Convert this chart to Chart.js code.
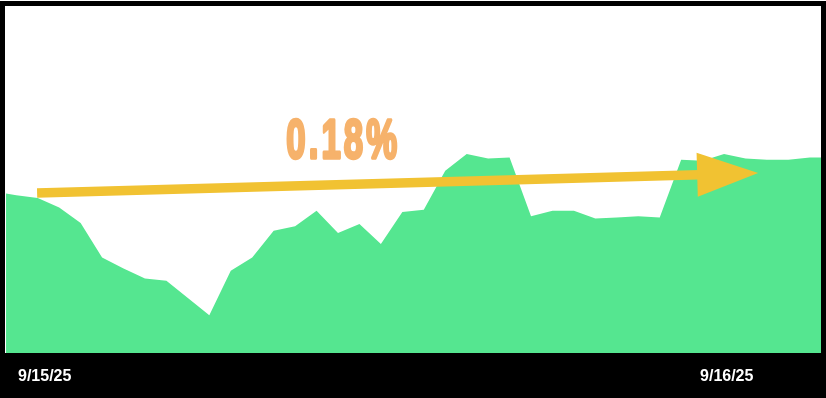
<!DOCTYPE html>
<html>
<head>
<meta charset="utf-8">
<script src="https://cdn.jsdelivr.net/npm/chart.js@4.4.1/dist/chart.umd.min.js"></script>
<style>
  html,body{margin:0;padding:0;background:#fff;}
  canvas{display:block;}
</style>
</head>
<body>
<canvas id="priceChart" width="826" height="398"></canvas>
<script>
// ---- data ----
const values = [100.01, 99.98, 99.955, 99.87, 99.73, 99.42, 99.32, 99.23, 99.21, 99.055,
  98.90, 99.30, 99.42, 99.66, 99.70, 99.84, 99.64, 99.72, 99.54, 99.83,
  99.85, 100.20, 100.35, 100.31, 100.32, 99.79, 99.84, 99.84, 99.77, 99.78,
  99.79, 99.78, 100.30, 100.29, 100.35, 100.31, 100.30, 100.30, 100.32, 100.32];
const tickIndex = [1.08, 32.88];
const tickLabels = ['9/15/25', '9/16/25'];
const arrowFrom = [1.97, 100.00];
const arrowTo = [35.59, 100.18];
const changeLabel = '0.18%';

const points = values.map((v, i) => ({x: i, y: v}));

const frame = {
  id: 'frame',
  beforeDraw(chart){
    const {ctx, chartArea, width, height} = chart;
    ctx.save();
    ctx.fillStyle = '#000';
    ctx.fillRect(0, chartArea.bottom, width, height - chartArea.bottom);
    ctx.restore();
  },
  afterDatasetsDraw(chart){
    const {ctx} = chart;
    const xs = chart.scales.x, ys = chart.scales.y;
    const x1 = xs.getPixelForValue(arrowFrom[0]), y1 = ys.getPixelForValue(arrowFrom[1]);
    const x2 = xs.getPixelForValue(arrowTo[0]), y2 = ys.getPixelForValue(arrowTo[1]);
    const ang = Math.atan2(y2 - y1, x2 - x1);
    const headLen = 61, headHalf = 22;
    const bx = x2 - headLen * Math.cos(ang), by = y2 - headLen * Math.sin(ang);
    ctx.save();
    ctx.strokeStyle = '#f1c232';
    ctx.fillStyle = '#f1c232';
    ctx.lineWidth = 9.5;
    ctx.beginPath();
    ctx.moveTo(x1, y1);
    ctx.lineTo(bx + 2 * Math.cos(ang), by + 2 * Math.sin(ang));
    ctx.stroke();
    ctx.beginPath();
    ctx.moveTo(x2, y2);
    ctx.lineTo(bx - headHalf * Math.sin(ang), by + headHalf * Math.cos(ang));
    ctx.lineTo(bx + headHalf * Math.sin(ang), by - headHalf * Math.cos(ang));
    ctx.closePath();
    ctx.fill();

    // percentage label, squeezed to look like a condensed heavy face
    ctx.translate(285, 143);
    ctx.scale(0.62, 1);
    ctx.font = 'bold 56px "Liberation Sans", Arial, sans-serif';
    ctx.letterSpacing = '5px';
    ctx.textAlign = 'left';
    ctx.textBaseline = 'middle';
    ctx.fillStyle = '#f6b26b';
    ctx.strokeStyle = '#f6b26b';
    ctx.lineWidth = 3.5;
    ctx.lineJoin = 'round';
    ctx.strokeText(changeLabel, 2, 0);
    ctx.fillText(changeLabel, 2, 0);
    ctx.restore();
  },
  afterDraw(chart){
    const {ctx, width, chartArea} = chart;
    ctx.save();
    ctx.fillStyle = '#000';
    ctx.fillRect(0, 1, width, 5);          // top
    ctx.fillRect(0, 1, 5, chart.height);   // left
    ctx.fillRect(chartArea.right, 1, width - chartArea.right, chartArea.bottom); // right
    ctx.restore();
  }
};

new Chart(document.getElementById('priceChart'), {
  type: 'line',
  data: {
    datasets: [{
      data: points,
      backgroundColor: '#55e690',
      borderWidth: 0,
      pointRadius: 0,
      fill: 'start',
      tension: 0
    }]
  },
  options: {
    responsive: false,
    animation: false,
    layout: {padding: {top: 6, left: 6, right: 5, bottom: 0}},
    plugins: {legend: {display: false}, tooltip: {enabled: false}},
    scales: {
      x: {
        type: 'linear',
        min: 0.52,
        max: 38.52,
        grid: {display: false, drawTicks: false},
        border: {display: false},
        afterBuildTicks: s => { s.ticks = tickIndex.map(v => ({value: v})); },
        afterFit: s => { s.height = 45; },
        ticks: {
          color: '#fff',
          font: {family: '"Liberation Sans", Arial, sans-serif', size: 16, weight: 'bold'},
          padding: 14,
          align: 'start',
          autoSkip: false,
          maxRotation: 0,
          callback: (v, i) => tickLabels[i]
        }
      },
      y: {
        display: false,
        min: 98.56,
        max: 101.683
      }
    }
  },
  plugins: [frame]
});
</script>
</body>
</html>
